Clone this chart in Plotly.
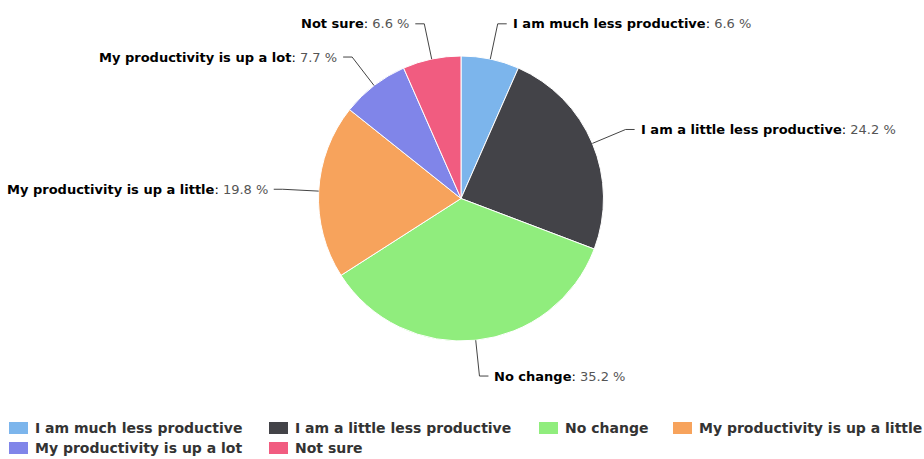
import math
import plotly.graph_objects as go

# Survey answers and their shares (%)
categories = [
    "I am much less productive",
    "I am a little less productive",
    "No change",
    "My productivity is up a little",
    "My productivity is up a lot",
    "Not sure",
]
shares = [6.6, 24.2, 35.2, 19.8, 7.7, 6.6]
colors = ["#7cb5ec", "#434348", "#90ed7d", "#f7a35c", "#8085e9", "#f15c80"]

W, H = 924, 459
CX, CY, R = 461, 198.5, 142.5      # pie centre and radius in pixels
LABEL_DIST = 36                    # distance of label elbow beyond the rim
ELBOW = 9                          # horizontal run of the connector
PAD = 4                            # gap between connector and text

# Legend grid (pixels): column left edges, row centres, swatch size
LEGEND_COLS = [9, 269, 539, 673]
LEGEND_ROWS = [428, 448]
SWATCH_W, SWATCH_H, SWATCH_GAP = 19, 12, 5


def px(x):
    return x / W


def py(y):
    return 1 - y / H


fig = go.Figure(
    go.Pie(
        labels=categories,
        values=shares,
        sort=False,
        direction="clockwise",
        rotation=0,
        marker=dict(colors=colors, line=dict(color="#ffffff", width=1)),
        textinfo="none",
        hoverinfo="label+percent",
        showlegend=False,
        domain=dict(x=[px(CX - R), px(CX + R)], y=[py(CY + R), py(CY - R)]),
    )
)

shapes, annotations = [], []

# Data labels with elbow connectors, placed from each slice's mid angle
total = sum(shares)
cum = 0.0
for name, val in zip(categories, shares):
    mid = (cum + val / 2) / total * 2 * math.pi
    cum += val
    sx, sy = math.sin(mid), -math.cos(mid)
    x0, y0 = CX + R * sx, CY + R * sy
    x1, y1 = CX + (R + LABEL_DIST) * sx, CY + (R + LABEL_DIST) * sy
    side = 1 if sx >= 0 else -1
    x2 = x1 + side * ELBOW
    shapes.append(dict(
        type="path", xref="paper", yref="paper",
        path=f"M {px(x0)} {py(y0)} L {px(x1)} {py(y1)} L {px(x2)} {py(y1)}",
        line=dict(color="#444444", width=1),
    ))
    annotations.append(dict(
        xref="paper", yref="paper",
        x=px(x2 + side * PAD), y=py(y1),
        xanchor="left" if side > 0 else "right", yanchor="middle",
        text=f"<b>{name}</b>: <span style='color:#555555'>{val} %</span>",
        showarrow=False,
        font=dict(family="DejaVu Sans", size=13, color="#000000"),
    ))

# Legend: coloured swatch + category name, filled row by row
for i, (name, col) in enumerate(zip(categories, colors)):
    lx = LEGEND_COLS[i % len(LEGEND_COLS)]
    ly = LEGEND_ROWS[i // len(LEGEND_COLS)]
    shapes.append(dict(
        type="rect", xref="paper", yref="paper",
        x0=px(lx), x1=px(lx + SWATCH_W),
        y0=py(ly + SWATCH_H / 2), y1=py(ly - SWATCH_H / 2),
        fillcolor=col, line=dict(width=0),
    ))
    annotations.append(dict(
        xref="paper", yref="paper",
        x=px(lx + SWATCH_W + SWATCH_GAP), y=py(ly),
        xanchor="left", yanchor="middle",
        text=f"<b>{name}</b>",
        showarrow=False,
        font=dict(family="DejaVu Sans", size=14, color="#333333"),
    ))

fig.update_layout(
    width=W, height=H,
    margin=dict(l=0, r=0, t=0, b=0),
    paper_bgcolor="#ffffff",
    plot_bgcolor="#ffffff",
    shapes=shapes,
    annotations=annotations,
    showlegend=False,
)

fig.write_html("out.html")
